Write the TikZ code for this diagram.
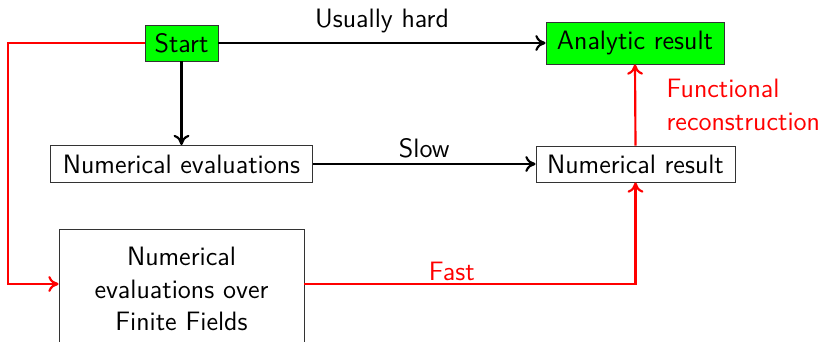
\documentclass[tikz,border=0pt]{standalone}
\usetikzlibrary{arrows.meta}
\begin{document}
\begin{tikzpicture}[x=0.44pt,y=-0.44pt,
  font=\fontsize{11.7}{14.3}\selectfont\sffamily,
  box/.style={draw=black!80, inner sep=0pt, align=center},
  goal/.style={box, fill=green},
  arr/.style={line width=0.95pt,-{To[length=4.5pt,width=7pt]}},
  rarr/.style={arr,red},
  lbl/.style={inner sep=1pt}]
\useasboundingbox (0,0) rectangle (822,341);
\node[goal, minimum width=73*0.44pt, minimum height=36*0.44pt] (start) at (181.5,43) {Start};
\node[goal, minimum width=178*0.44pt, minimum height=42*0.44pt] (analytic) at (635,43) {Analytic result};
\node[box, minimum width=262*0.44pt, minimum height=37*0.44pt] (numeval) at (181.5,164) {Numerical evaluations};
\node[box, minimum width=199*0.44pt, minimum height=36*0.44pt] (numres) at (635.5,164) {Numerical result};
\node[box, minimum width=245*0.44pt, minimum height=120*0.44pt, text width=240*0.44pt] (ff) at (181.5,289) {Numerical\\evaluations over\\Finite Fields};
\coordinate (lc) at (8,43);
\coordinate (lb) at (8,284);
\coordinate (rb) at (635.5,284);
\draw[arr] (start.east) -- node[lbl, above=3pt] {Usually hard} (analytic.west);
\draw[arr] (start.south) -- (numeval.north);
\draw[arr] (numeval.east) -- node[lbl, above=1pt] {Slow} (numres.west);
\draw[rarr] (start.west) -- (lc) -- (lb) -- (ff.west |- lb);
\draw[rarr] (ff.east |- rb) -- node[lbl, pos=0.445, above=0pt, text=red] {Fast} (rb) -- (numres.south);
\draw[rarr] (numres.north) -- node[lbl, right=28*0.44pt, text=red, align=left, anchor=west] {Functional\\reconstruction} (analytic.south);
\end{tikzpicture}
\end{document}
